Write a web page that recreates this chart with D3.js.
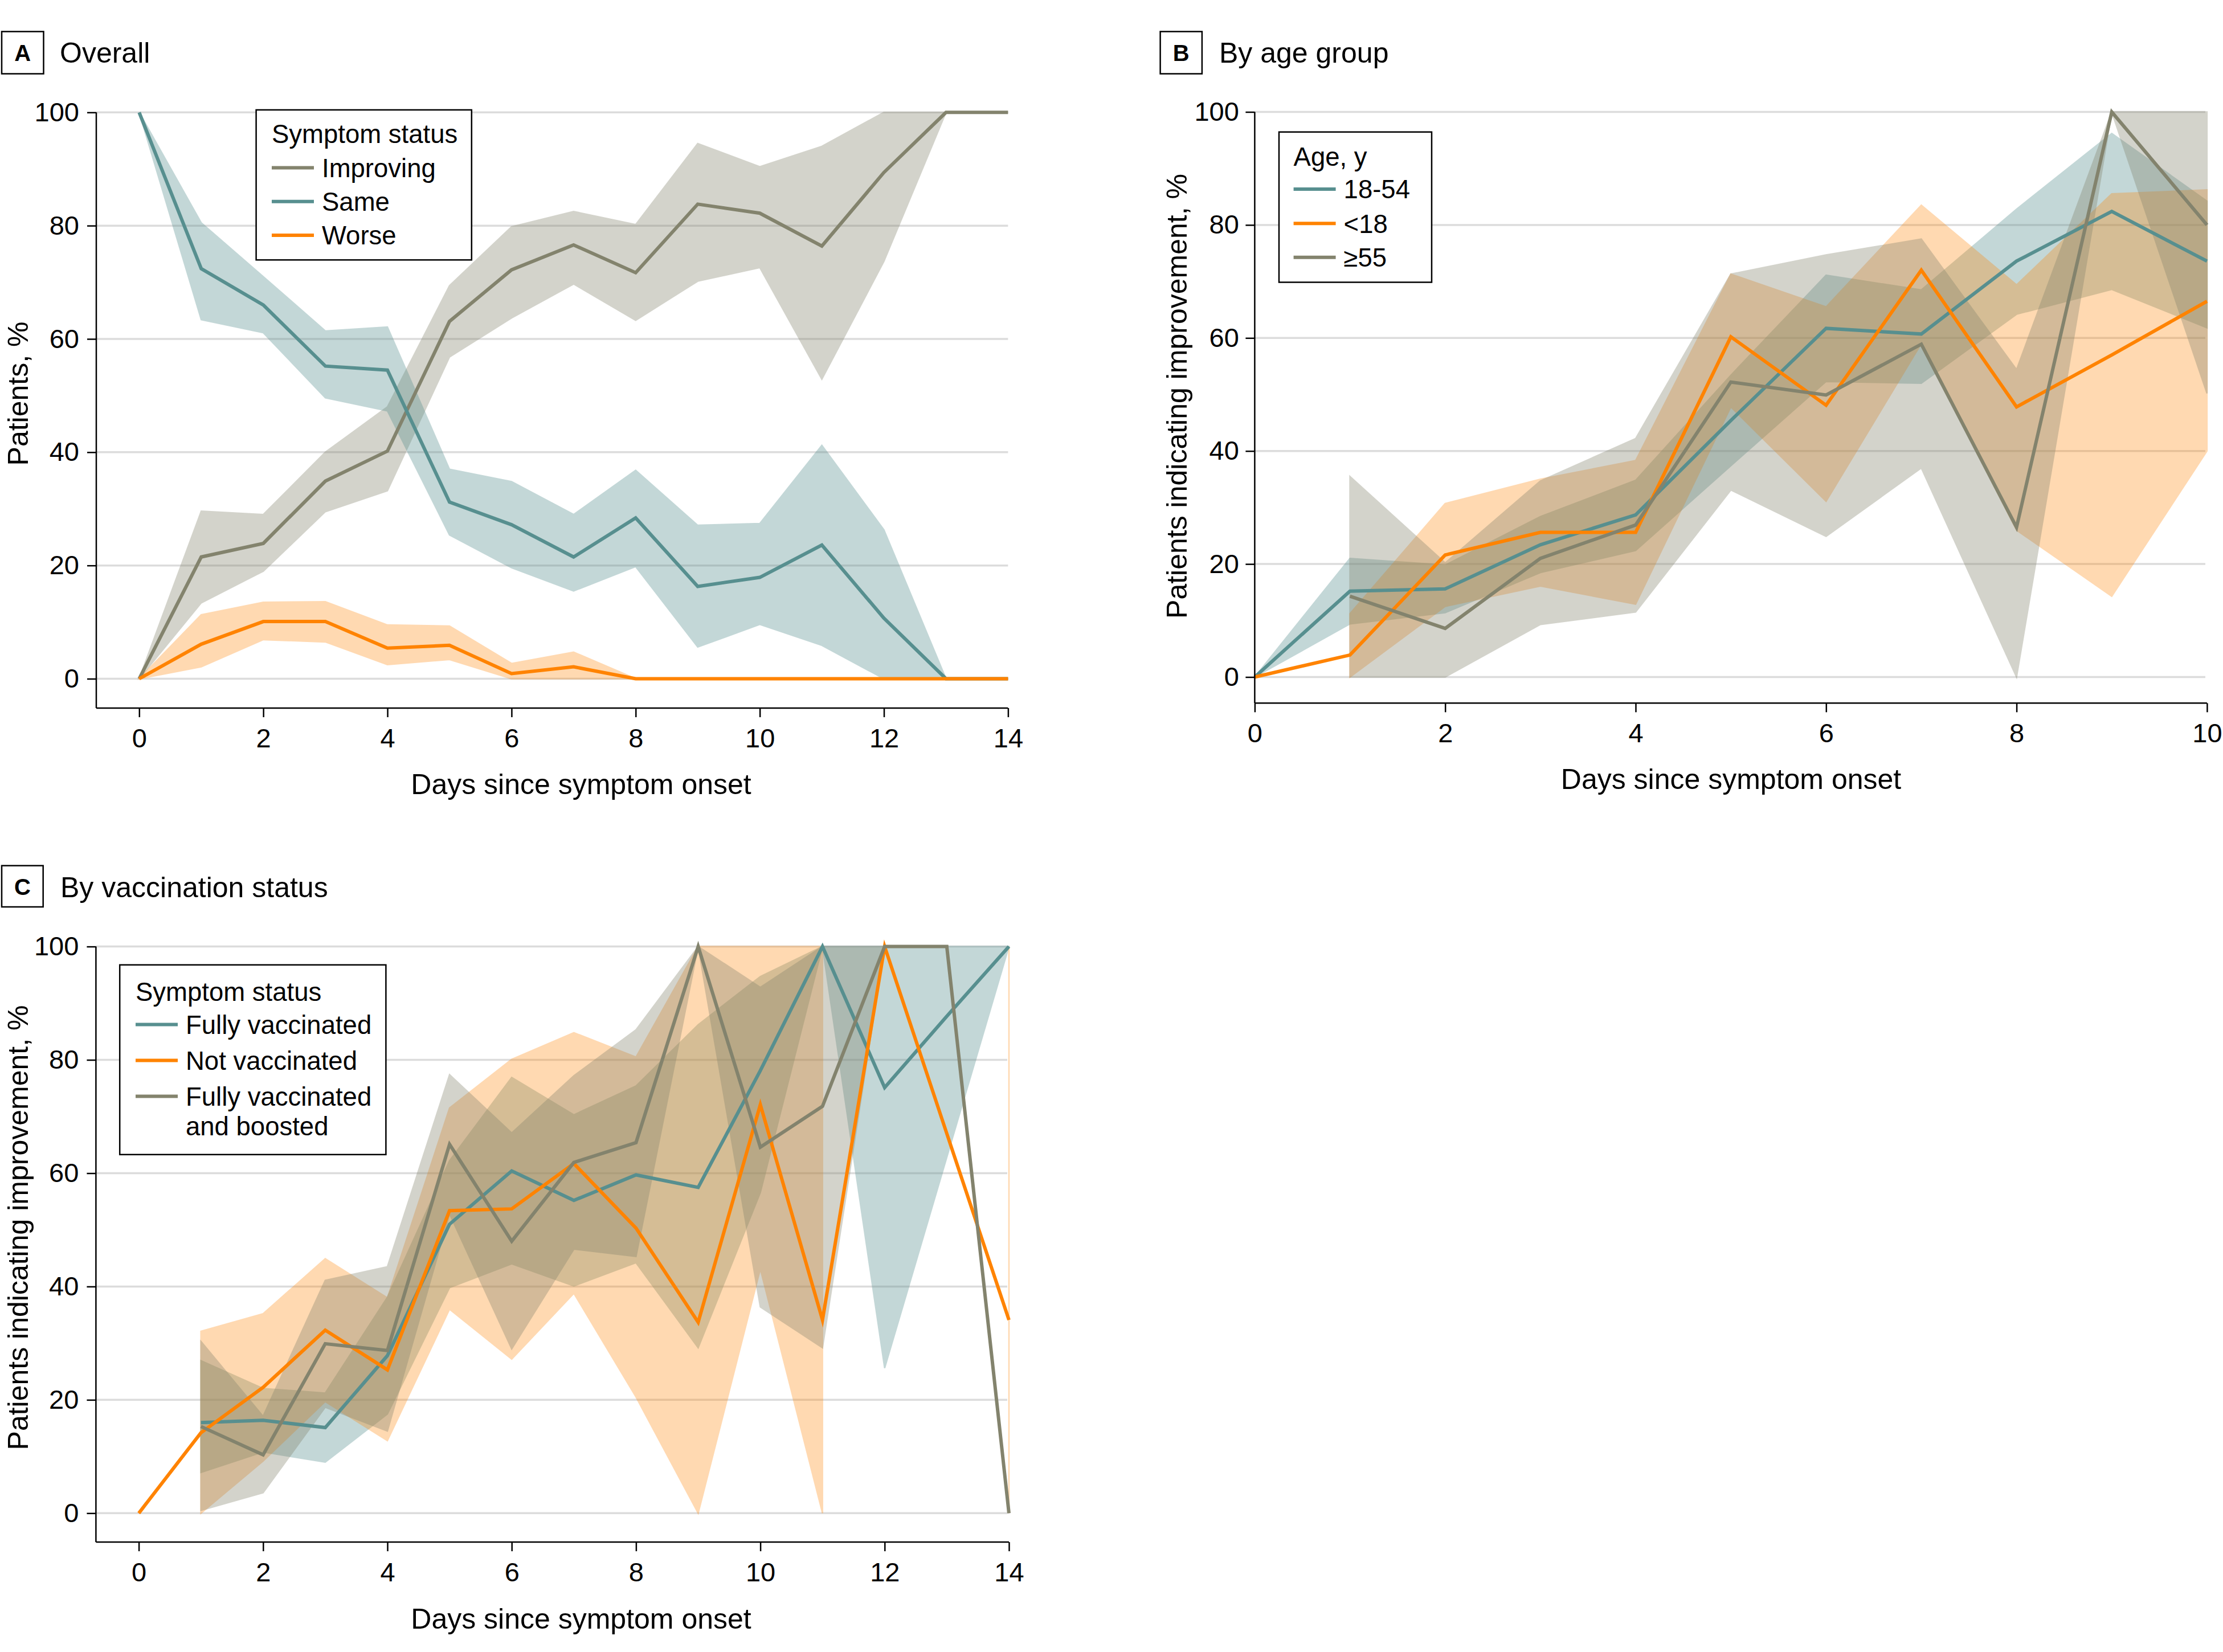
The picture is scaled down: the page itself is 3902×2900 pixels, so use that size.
<!DOCTYPE html>
<html><head><meta charset="utf-8">
<script src="https://cdn.jsdelivr.net/npm/d3@7/dist/d3.min.js"></script>
<style>
body{margin:0;background:#fff;}
svg text{font-family:"Liberation Sans", Arial, sans-serif; fill:#000;}
</style></head><body>
<svg id="chart" width="3902" height="2900" xmlns="http://www.w3.org/2000/svg"></svg>
<script>
// ---------------- DATA ----------------
const yTicks = [0, 20, 40, 60, 80, 100];
const daysA = [0,1,2,3,4,5,6,7,8,9,10,11,12,13,14];
const xTicksA = [0,2,4,6,8,10,12,14];
const daysB = [0,1,2,3,4,5,6,7,8,9,10];
const xTicksB = [0,2,4,6,8,10];
const daysC = [0,1,2,3,4,5,6,7,8,9,10,11,12,13,14];
const xTicksC = [0,2,4,6,8,10,12,14];

// Panel A: Overall
const improving   = [0, 21.5, 23.9, 34.9, 40.2, 63.1, 72.2, 76.6, 71.7, 83.8, 82.2, 76.4, 89.4, 100, 100];
const improvingLo = [0, 13.4, 19.0, 29.5, 33.2, 56.8, 63.7, 69.7, 63.3, 70.2, 72.6, 52.9, 73.7, 100, 100];
const improvingHi = [0, 29.6, 29.0, 40.0, 48.0, 69.4, 79.8, 82.5, 80.2, 94.5, 90.4, 94.0, 100, 100, 100];
const same        = [100, 72.4, 66.0, 55.2, 54.5, 31.2, 27.2, 21.5, 28.4, 16.3, 17.9, 23.6, 10.7, 0, 0];
const sameLo      = [100, 63.4, 61.1, 49.6, 47.3, 25.4, 19.6, 15.5, 19.8, 5.6, 9.6, 5.9, 0, 0, 0];
const sameHi      = [100, 80.5, 71.0, 61.4, 62.1, 37.0, 34.8, 29.0, 36.8, 27.1, 27.4, 41.2, 26.3, 0, 0];
const worse       = [0, 6.1, 10.1, 10.1, 5.4, 5.9, 0.9, 2.1, 0, 0, 0, 0, 0, 0, 0];
const worseLo     = [0, 2.1, 6.9, 6.5, 2.5, 3.4, 0, 0, 0, 0, 0, 0, 0, 0, 0];
const worseHi     = [0, 11.3, 13.5, 13.6, 9.5, 9.3, 2.7, 4.7, 0, 0, 0, 0, 0, 0, 0];

// Panel B: By age group
const age1854   = [0, 15.2, 15.6, 23.4, 28.7, 45.4, 61.7, 60.7, 73.6, 82.4, 73.6];
const age1854Lo = [0, 9.4, 11.4, 18.5, 22.4, 37.4, 52.3, 52.0, 64.2, 68.6, 61.8];
const age1854Hi = [0, 21.0, 19.8, 28.4, 34.8, 53.4, 71.1, 68.5, 82.8, 96.2, 84.2];
const ageU18    = [0, 3.9, 21.6, 25.6, 25.6, 60.2, 48.1, 72.0, 47.8, 57.0, 66.5];
const ageU18Lo  = [null, 0, 12.5, 16.1, 12.9, 47.8, 31.1, 59.0, 26.0, 14.3, 40.0];
const ageU18Hi  = [null, 11.2, 30.7, 35.0, 38.3, 71.3, 65.5, 83.5, 69.4, 85.5, 86.2];
const age55     = [null, 14.3, 8.6, 21.0, 26.9, 52.2, 49.9, 58.9, 26.5, 100, 80.0];
const age55Lo   = [null, 0, 0, 9.3, 11.5, 33.1, 24.9, 37.0, 0, 100, 50.2];
const age55Hi   = [null, 35.5, 20.2, 34.7, 42.2, 71.3, 74.7, 77.5, 54.4, 100, 100];

// Panel C: By vaccination status
const fullyVacc   = [null, 16.0, 16.4, 15.1, 27.8, 51.0, 60.4, 55.2, 59.7, 57.5, 78.1, 100, 75.1, 87.7, 100];
const fullyVaccLo = [null, 7.2, 10.8, 9.0, 17.5, 39.8, 44.0, 40.1, 44.2, 29.2, 56.6, 100, 25.6, 62.8, 100];
const fullyVaccHi = [null, 26.9, 22.0, 21.2, 38.1, 62.2, 76.9, 70.3, 75.4, 86.2, 94.7, 100, 100, 100, 100];
const notVacc     = [0, 14.2, 22.2, 32.3, 25.3, 53.4, 53.7, 61.7, 50.3, 33.7, 72.1, 34.1, 100, 67.0, 34.1];
const notVaccLo   = [null, 0, 9.2, 19.7, 12.8, 36.0, 27.2, 38.8, 20.5, 0, 43.1, 0, null, null, 0];
const notVaccHi   = [null, 32.1, 35.2, 44.9, 38.0, 71.5, 80.1, 84.8, 80.5, 100, 100, 100, null, null, 100];
const boosted     = [null, 15.3, 10.3, 29.9, 28.7, 65.1, 48.0, 61.9, 65.4, 100, 64.6, 71.8, 100, 100, 0];
const boostedLo   = [null, 0.5, 3.6, 18.7, 14.5, 52.8, 29.0, 46.6, 45.3, 100, 36.4, 29.2, 100, 100, 0];
const boostedHi   = [null, 30.3, 17.1, 41.1, 43.5, 77.4, 67.1, 77.2, 85.3, 100, 92.8, 100, 100, 100, 0];

// ---------------- STYLE ----------------
const GRAY = "#83836d", TEAL = "#578f8f", ORANGE = "#ff8300";
const FS_TICK = 47, FS_TITLE = 50, FS_LEG = 45.5;

const svg = d3.select("#chart");

function panel(cfg) {
  const g = svg.append("g");
  const x = d3.scaleLinear().domain([0, cfg.xMax]).range(cfg.xRange);
  const y = d3.scaleLinear().domain([0, 100]).range(cfg.yRange);

  // gridlines
  g.append("g").selectAll("line").data(yTicks).join("line")
    .attr("x1", cfg.axisX).attr("x2", cfg.gridEnd)
    .attr("y1", d => y(d)).attr("y2", d => y(d))
    .attr("stroke", "#dcdcdc").attr("stroke-width", 3.5);

  // bands
  cfg.series.forEach(s => {
    const area = d3.area()
      .defined((d, i) => s.lo[i] != null && s.hi[i] != null)
      .x((d, i) => x(cfg.days[i]))
      .y0((d, i) => y(s.lo[i]))
      .y1((d, i) => y(s.hi[i]));
    g.append("path").datum(cfg.days).attr("d", area)
      .attr("fill", s.color).attr("stroke", s.color).attr("stroke-width", 2.5)
      .attr("opacity", s.alpha);
  });

  // lines
  cfg.series.forEach(s => {
    const line = d3.line()
      .defined((d, i) => s.values[i] != null)
      .x((d, i) => x(cfg.days[i]))
      .y((d, i) => y(s.values[i]));
    g.append("path").datum(cfg.days).attr("d", line)
      .attr("fill", "none").attr("stroke", s.color).attr("stroke-width", 6)
      .attr("stroke-linejoin", "miter").attr("stroke-miterlimit", 6);
  });

  // axes lines
  g.append("line").attr("x1", cfg.axisX).attr("x2", cfg.axisX)
    .attr("y1", y(100)).attr("y2", cfg.axisY)
    .attr("stroke", "#000").attr("stroke-width", 2.5);
  g.append("line").attr("x1", cfg.axisX).attr("x2", x(cfg.xMax))
    .attr("y1", cfg.axisY).attr("y2", cfg.axisY)
    .attr("stroke", "#000").attr("stroke-width", 2.5);

  const ax = g.append("g").attr("transform", `translate(0,${cfg.axisY})`)
    .call(d3.axisBottom(x).tickValues(cfg.xTicks).tickSize(16).tickPadding(19.5).tickFormat(d3.format("d")));
  const ay = g.append("g").attr("transform", `translate(${cfg.axisX},0)`)
    .call(d3.axisLeft(y).tickValues(yTicks).tickSize(16).tickPadding(cfg.yPad).tickFormat(d3.format("d")));
  [ax, ay].forEach(a => {
    a.select(".domain").remove();
    a.selectAll(".tick line").attr("stroke", "#000").attr("stroke-width", 2.5);
    a.selectAll(".tick text").attr("font-size", FS_TICK).attr("font-family", null).attr("fill", "#000");
  });

  // axis titles
  g.append("text").attr("x", cfg.xTitle[0]).attr("y", cfg.xTitle[1])
    .attr("text-anchor", "middle").attr("font-size", FS_TITLE).text("Days since symptom onset");
  g.append("text").attr("transform", `translate(${cfg.yTitle[0]},${cfg.yTitle[1]}) rotate(-90)`)
    .attr("text-anchor", "middle").attr("font-size", FS_TITLE).text(cfg.yTitleText);

  // panel label
  const b = cfg.box;
  g.append("rect").attr("x", b[0]).attr("y", b[1]).attr("width", b[2]).attr("height", b[3])
    .attr("fill", "#fff").attr("stroke", "#000").attr("stroke-width", 2.5);
  g.append("text").attr("x", b[0] + b[2] / 2).attr("y", b[1] + 51.5)
    .attr("text-anchor", "middle").attr("font-size", 40).attr("font-weight", "bold").text(cfg.letter);
  g.append("text").attr("x", cfg.titlePos[0]).attr("y", cfg.titlePos[1])
    .attr("font-size", FS_TITLE).text(cfg.title);

  // legend
  const L = cfg.legend;
  g.append("rect").attr("x", L.x).attr("y", L.y).attr("width", L.w).attr("height", L.h)
    .attr("fill", "#fff").attr("stroke", "#000").attr("stroke-width", 2.5);
  g.append("text").attr("x", L.tx).attr("y", L.titleY).attr("font-size", FS_LEG).text(L.title);
  L.items.forEach((it, i) => {
    const cy = L.rowY[i];
    g.append("line").attr("x1", L.tx).attr("x2", L.tx + 74).attr("y1", cy).attr("y2", cy)
      .attr("stroke", it.color).attr("stroke-width", 6);
    const t = g.append("text").attr("x", L.tx + 88).attr("y", cy + 16.3).attr("font-size", FS_LEG);
    it.label.forEach((ln, j) => {
      t.append("tspan").attr("x", L.tx + 88).attr("dy", j === 0 ? 0 : 52).text(ln);
    });
  });
}

// Panel A
panel({
  days: daysA, xMax: 14, xTicks: xTicksA,
  xRange: [244.3, 1769.4], yRange: [1191.5, 197.3],
  axisX: 169, axisY: 1243, gridEnd: 1769.4, yPad: 14,
  xTitle: [1020, 1393.6], yTitle: [49, 691], yTitleText: "Patients, %",
  box: [3, 55.4, 73.5, 74.1], letter: "A", title: "Overall", titlePos: [105, 110.3],
  series: [
    {color: GRAY, alpha: 0.35, values: improving, lo: improvingLo, hi: improvingHi},
    {color: TEAL, alpha: 0.35, values: same, lo: sameLo, hi: sameHi},
    {color: ORANGE, alpha: 0.3, values: worse, lo: worseLo, hi: worseHi}
  ],
  legend: {x: 449.6, y: 192.9, w: 378.2, h: 263.4, tx: 477, titleY: 251, title: "Symptom status",
    rowY: [294.6, 353.8, 413],
    items: [{color: GRAY, label: ["Improving"]}, {color: TEAL, label: ["Same"]}, {color: ORANGE, label: ["Worse"]}]}
});

// Panel B
panel({
  days: daysB, xMax: 10, xTicks: xTicksB,
  xRange: [2202.4, 3873.9], yRange: [1188.5, 196.5],
  axisX: 2202.4, axisY: 1234.3, gridEnd: 3871, yPad: 11.5,
  xTitle: [3038.5, 1384.9], yTitle: [2083, 695.5], yTitleText: "Patients indicating improvement, %",
  box: [2036.6, 55.4, 73.3, 74.1], letter: "B", title: "By age group", titlePos: [2140, 110.3],
  series: [
    {color: TEAL, alpha: 0.35, values: age1854, lo: age1854Lo, hi: age1854Hi},
    {color: ORANGE, alpha: 0.3, values: ageU18, lo: ageU18Lo, hi: ageU18Hi},
    {color: GRAY, alpha: 0.35, values: age55, lo: age55Lo, hi: age55Hi}
  ],
  legend: {x: 2245, y: 231.7, w: 268, h: 263.8, tx: 2270.6, titleY: 291, title: "Age, y",
    rowY: [332.1, 392.2, 451.8],
    items: [{color: TEAL, label: ["18-54"]}, {color: ORANGE, label: ["<18"]}, {color: GRAY, label: ["≥55"]}]}
});

// Panel C
panel({
  days: daysC, xMax: 14, xTicks: xTicksC,
  xRange: [243.6, 1771], yRange: [2656.3, 1661.6],
  axisX: 168.4, axisY: 2707.1, gridEnd: 1768, yPad: 14,
  xTitle: [1020, 2858.9], yTitle: [49, 2155], yTitleText: "Patients indicating improvement, %",
  box: [3, 1519.6, 72.7, 72.4], letter: "C", title: "By vaccination status", titlePos: [106, 1574.5],
  series: [
    {color: TEAL, alpha: 0.35, values: fullyVacc, lo: fullyVaccLo, hi: fullyVaccHi},
    {color: ORANGE, alpha: 0.3, values: notVacc, lo: notVaccLo, hi: notVaccHi},
    {color: GRAY, alpha: 0.35, values: boosted, lo: boostedLo, hi: boostedHi}
  ],
  legend: {x: 210.2, y: 1693.8, w: 467.2, h: 333, tx: 238, titleY: 1757, title: "Symptom status",
    rowY: [1798.5, 1861.5, 1924.5],
    items: [{color: TEAL, label: ["Fully vaccinated"]}, {color: ORANGE, label: ["Not vaccinated"]},
            {color: GRAY, label: ["Fully vaccinated", "and boosted"]}]}
});
</script>
</body></html>
